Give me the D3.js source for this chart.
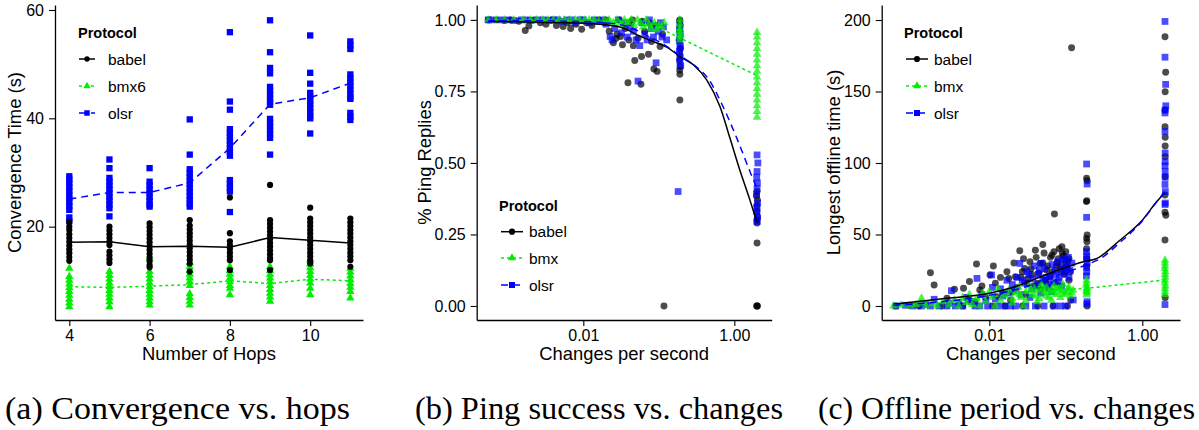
<!DOCTYPE html>
<html>
<head>
<meta charset="utf-8">
<script src="https://cdn.jsdelivr.net/npm/d3@7"></script>
<style>
  html, body { margin: 0; padding: 0; background: #fff; }
  svg { display: block; }
  text { font-family: "Liberation Sans", Arial, Helvetica, sans-serif; fill: #000; }
  .cap { font-family: "Liberation Serif", "Times New Roman", serif; }
</style>
</head>
<body>
<svg id="chart" width="1199" height="430"></svg>
<script>
// ---------- shared ----------
const protocols = ["babel", "bmx6", "olsr"];
const protocolsBC = ["babel", "bmx", "olsr"];
const captions = ["(a) Convergence vs. hops", "(b) Ping success vs. changes", "(c) Offline period vs. changes"];

// ---------- (a) convergence time per hop count ----------
const hops = [4, 5, 6, 7, 8, 9, 10, 11];
const ticksAx = [4, 6, 8, 10];
const ticksAy = [20, 40, 60];

const convBabel = [
  [20.9, 20.0, 19.4, 18.6, 17.9, 17.2, 16.5, 15.8, 15.1, 14.4, 13.7],
  [20.0, 19.3, 18.6, 17.9, 17.2, 16.6, 15.4, 14.7, 14.0, 13.3],
  [20.6, 19.9, 19.2, 18.5, 17.8, 17.1, 16.4, 15.7, 15.0, 14.3, 13.6, 12.9, 12.5],
  [21.2, 20.2, 19.5, 18.8, 18.1, 17.4, 16.7, 16.0, 15.3, 14.6, 13.9, 13.2, 11.7],
  [25.4, 18.8, 17.3, 16.6, 15.9, 15.2, 14.5, 13.8, 12.0],
  [27.7, 21.2, 20.5, 19.8, 19.1, 18.4, 17.7, 17.0, 16.3, 15.6, 14.9, 14.2, 13.8, 12.0],
  [23.5, 21.5, 20.8, 20.1, 19.4, 18.7, 18.0, 17.3, 16.6, 15.9, 15.2, 14.5, 13.8, 13.2],
  [21.5, 20.8, 20.1, 19.4, 18.7, 18.0, 17.3, 16.6, 15.9, 15.2, 14.5, 13.8, 12.6]
];
const convBmx6 = [
  [12.3, 10.8, 10.1, 9.4, 8.7, 8.0, 7.3, 6.6, 5.9, 5.2],
  [11.7, 11.0, 10.3, 9.6, 8.9, 8.2, 7.5, 6.8, 6.1, 5.2],
  [14.2, 11.7, 11.0, 10.3, 9.6, 8.9, 8.2, 7.5, 6.8, 6.1, 5.5],
  [13.3, 12.6, 11.9, 11.2, 10.5, 9.8, 9.1, 7.6, 6.9, 6.2, 5.5],
  [12.6, 11.9, 11.2, 10.5, 9.8, 9.1, 8.6, 7.4],
  [12.6, 11.9, 11.2, 10.5, 9.8, 9.1, 8.4, 7.7, 7.0, 6.2],
  [13.8, 13.1, 12.4, 11.7, 11.0, 10.3, 9.6, 8.6, 7.4],
  [12.3, 11.6, 10.9, 10.2, 9.5, 8.8, 8.0, 6.8]
];
const convOlsr = [
  [29.3, 28.7, 28.0, 27.3, 26.6, 25.9, 25.2, 24.5, 23.8, 23.1, 21.7, 21.0],
  [32.4, 30.8, 29.0, 28.3, 27.6, 26.9, 26.2, 25.5, 24.8, 24.1, 23.4, 21.9],
  [30.8, 28.3, 27.6, 26.9, 26.2, 25.5, 24.8, 24.1, 23.7],
  [39.8, 33.3, 30.6, 29.9, 29.2, 28.5, 27.8, 27.1, 26.4, 25.7, 25.0, 24.3, 23.7],
  [55.9, 43.1, 41.6, 38.0, 37.3, 36.6, 35.9, 35.2, 34.5, 33.8, 33.1, 28.6, 27.9, 27.2, 26.5, 22.7],
  [58.1, 52.2, 49.3, 48.3, 45.8, 45.1, 44.4, 43.7, 43.0, 42.5, 39.9, 39.2, 38.5, 37.8, 37.1, 36.4, 33.3],
  [55.3, 48.4, 46.4, 44.7, 44.0, 43.3, 42.6, 41.9, 41.2, 40.5, 40.0, 37.2],
  [54.2, 53.5, 52.8, 48.1, 47.4, 46.7, 46.0, 45.3, 44.6, 43.9, 43.6, 41.0, 40.3, 39.7]
];
const meanBabel = [17.1, 17.2, 16.3, 16.4, 16.2, 18.0, 17.5, 17.0];
const meanBmx6 = [8.9, 8.8, 9.0, 9.3, 10.0, 9.5, 10.3, 10.0];
const meanOlsr = [25.1, 26.3, 26.3, 28.1, 34.5, 42.6, 43.8, 46.5];

// ---------- (b) ping replies vs. change rate ----------
const ticksBx = [0.01, 1];
const ticksBy = [0, 0.25, 0.5, 0.75, 1];

const pingBabel = [
  [0.00055, 1.0], [0.0007, 1.0], [0.0009, 0.998], [0.0011, 1.0], [0.0014, 0.995], [0.0017, 0.963],
  [0.0019, 0.979], [0.0022, 1.0], [0.0027, 0.99], [0.0032, 0.985], [0.0038, 1.0], [0.0044, 0.98],
  [0.0054, 0.977], [0.0062, 0.99], [0.0068, 0.97], [0.008, 0.985], [0.0095, 0.967], [0.011, 0.99],
  [0.013, 0.98], [0.016, 1.0], [0.019, 0.99], [0.02, 1.0], [0.022, 0.96], [0.025, 0.92], [0.027, 0.935],
  [0.028, 0.95], [0.03, 1.0], [0.031, 0.942], [0.033, 0.913], [0.036, 0.97], [0.039, 0.78], [0.04, 0.93],
  [0.042, 0.99], [0.045, 1.0], [0.046, 0.91], [0.048, 0.858], [0.053, 0.936], [0.058, 0.775],
  [0.059, 0.872], [0.06, 0.995], [0.065, 0.96], [0.073, 0.88], [0.075, 0.99], [0.08, 0.924],
  [0.086, 0.828], [0.09, 0.98], [0.095, 0.82], [0.104, 0.907], [0.112, 0.95], [0.117, 0.0],
  [0.19, 1.0], [0.188, 0.995], [0.192, 0.98], [0.19, 0.965], [0.186, 0.93], [0.193, 0.9],
  [0.19, 0.877], [0.188, 0.86], [0.191, 0.837], [0.189, 0.825], [0.19, 0.81], [0.19, 0.72],
  [2.0, 0.40], [1.97, 0.385], [2.02, 0.37], [1.98, 0.35], [2.0, 0.33], [2.03, 0.31],
  [1.99, 0.30], [2.0, 0.29], [2.0, 0.22], [1.98, 0.0], [2.0, 0.0], [2.02, 0.0]
];
const pingBmx = [
  [0.00055, 1.0], [0.0007, 1.0], [0.0009, 1.0], [0.0012, 1.0], [0.0016, 1.0], [0.002, 1.0],
  [0.0024, 1.0], [0.0029, 1.0], [0.0034, 1.0], [0.004, 1.0], [0.0048, 1.0], [0.0056, 1.0],
  [0.0066, 1.0], [0.0078, 1.0], [0.009, 1.0], [0.0105, 1.0], [0.012, 1.0], [0.014, 1.0],
  [0.016, 0.995], [0.019, 1.0], [0.022, 1.0], [0.025, 0.99], [0.028, 1.0], [0.031, 0.985],
  [0.035, 1.0], [0.039, 0.99], [0.043, 1.0], [0.047, 0.98], [0.052, 1.0], [0.057, 0.99],
  [0.062, 0.975], [0.068, 1.0], [0.074, 0.985], [0.08, 0.97], [0.087, 0.99], [0.094, 0.965],
  [0.1, 0.98], [0.108, 0.975], [0.118, 0.99],
  [0.19, 1.0], [0.19, 0.985], [0.19, 0.97], [0.188, 0.96], [0.192, 0.95], [0.19, 0.94], [0.19, 0.93],
  [2.0, 0.956], [2.0, 0.94], [2.0, 0.92], [2.0, 0.90], [2.0, 0.88], [2.0, 0.86], [2.0, 0.84],
  [2.0, 0.82], [2.0, 0.80], [2.0, 0.78], [2.0, 0.76], [2.0, 0.74], [2.0, 0.72], [2.0, 0.70],
  [2.0, 0.68], [2.0, 0.66]
];
const pingOlsr = [
  [0.00055, 1.0], [0.0006, 1.0], [0.0008, 1.0], [0.001, 1.0], [0.0012, 0.998], [0.0015, 1.0],
  [0.0018, 1.0], [0.002, 0.998], [0.0025, 1.0], [0.003, 1.0], [0.0035, 0.998], [0.004, 1.0],
  [0.0046, 1.0], [0.0052, 0.995], [0.006, 1.0], [0.007, 1.0], [0.0077, 0.99], [0.009, 1.0],
  [0.01, 1.0], [0.012, 0.99], [0.014, 1.0], [0.016, 0.995], [0.018, 1.0], [0.02, 0.985],
  [0.0226, 0.942], [0.024, 0.93], [0.026, 0.97], [0.029, 1.0], [0.032, 0.955], [0.035, 0.99],
  [0.038, 0.94], [0.042, 0.975], [0.046, 0.96], [0.05, 0.93], [0.053, 0.786], [0.056, 0.91],
  [0.06, 0.99], [0.065, 0.95], [0.07, 0.93], [0.075, 1.0], [0.08, 0.97], [0.085, 0.94],
  [0.092, 0.85], [0.098, 0.96], [0.105, 0.99], [0.11, 0.94], [0.115, 0.975], [0.127, 0.93],
  [0.19, 0.98], [0.188, 0.965], [0.192, 0.95], [0.19, 0.94], [0.187, 0.925], [0.193, 0.91],
  [0.19, 0.9], [0.188, 0.89], [0.191, 0.87], [0.19, 0.855], [0.195, 0.84], [0.18, 0.40],
  [2.0, 0.528], [2.05, 0.50], [2.0, 0.47], [1.98, 0.45], [2.02, 0.43], [2.0, 0.41],
  [1.97, 0.39], [2.03, 0.36], [2.0, 0.345], [1.98, 0.33], [2.02, 0.31], [2.0, 0.295]
];
const pingFitBabel = [
  [0.00055, 0.995], [0.002, 0.993], [0.006, 0.99], [0.02, 0.983], [0.035, 0.97], [0.056, 0.943],
  [0.093, 0.92], [0.127, 0.905], [0.19, 0.872], [0.286, 0.843], [0.43, 0.79], [0.645, 0.697],
  [0.877, 0.586], [1.2, 0.47], [1.61, 0.37], [1.98, 0.295]
];
const pingFitBmx = [
  [0.00055, 1.0], [0.02, 0.995], [0.06, 0.985], [0.115, 0.965], [0.19, 0.937], [2.0, 0.805]
];
const pingFitOlsr = [
  [0.00055, 0.998], [0.005, 0.996], [0.02, 0.99], [0.04, 0.975], [0.07, 0.945], [0.12, 0.912],
  [0.19, 0.875], [0.3, 0.84], [0.45, 0.795], [0.7, 0.7], [1.08, 0.586], [1.68, 0.458], [2.0, 0.41]
];

// ---------- (c) longest offline period vs. change rate ----------
const ticksCx = [0.01, 1];
const ticksCy = [0, 50, 100, 150, 200];

const offBabel = [
  [0.0006, 0], [0.0009, 0.5], [0.0012, 0], [0.0017, 23.3], [0.0019, 14.7], [0.0024, 0], [0.0028, 5.4],
  [0.0035, 11.7], [0.0045, 0], [0.0046, 12.4], [0.0053, 4.2], [0.0055, 17.1], [0.0065, 3],
  [0.0068, 29.4], [0.0075, 11.2], [0.008, 14], [0.009, 6],
  [0.0102, 21.7], [0.011, 0], [0.0113, 28], [0.012, 16], [0.0125, 6.5], [0.014, 20], [0.015, 9],
  [0.016, 0], [0.017, 24], [0.018, 19.3], [0.019, 4], [0.02, 10], [0.021, 30], [0.022, 20.5],
  [0.023, 13], [0.025, 38.7], [0.026, 20], [0.027, 24], [0.027, 0], [0.028, 33], [0.029, 26.3],
  [0.03, 8], [0.031, 16], [0.032, 19], [0.034, 31], [0.035, 26], [0.036, 22], [0.038, 14],
  [0.04, 39], [0.041, 34], [0.043, 15.9], [0.043, 0], [0.044, 23], [0.046, 29.8], [0.047, 12],
  [0.05, 43], [0.05, 30], [0.052, 37], [0.053, 18], [0.055, 17], [0.056, 25.2], [0.058, 28],
  [0.06, 12], [0.062, 20.5], [0.063, 34], [0.066, 35.7], [0.067, 24], [0.068, 0], [0.07, 38],
  [0.071, 64.3], [0.073, 16], [0.075, 28], [0.077, 30], [0.08, 33], [0.082, 40], [0.085, 25.2],
  [0.087, 29], [0.089, 41.5], [0.09, 36.8], [0.093, 35], [0.095, 22], [0.097, 24], [0.098, 32.2],
  [0.1, 38], [0.103, 27.5], [0.105, 0], [0.106, 31], [0.11, 18], [0.11, 33], [0.115, 24],
  [0.116, 4.2], [0.119, 180.6],
  [0.187, 89.3], [0.19, 87.6], [0.188, 73.6], [0.186, 73], [0.19, 49.7], [0.187, 47.3],
  [0.189, 45], [0.187, 40], [0.188, 33], [0.187, 28], [0.19, 0],
  [1.98, 188.3], [2.02, 163.4], [1.99, 149.9], [1.98, 137], [1.98, 125.4], [1.99, 118],
  [1.99, 111.9], [1.99, 104.4], [1.99, 90.4], [1.98, 77.6], [1.98, 65.5], [2.03, 63.5],
  [1.98, 46.2], [1.99, 5.8]
];
const offBmx = [
  [0.00056, 0], [0.0007, 0.5], [0.0009, 0], [0.0011, 1], [0.0013, 5.4], [0.0013, 2], [0.0015, 0],
  [0.0018, 1.5], [0.0021, 0], [0.0025, 3], [0.003, 1], [0.0035, 4], [0.004, 0], [0.0045, 6],
  [0.005, 2.5], [0.0055, 8], [0.006, 1], [0.0068, 5], [0.0075, 0], [0.0082, 9], [0.009, 3],
  [0.01, 10], [0.011, 6], [0.012, 0], [0.013, 12], [0.014, 4], [0.016, 7], [0.018, 11], [0.02, 2],
  [0.02, 5], [0.022, 9], [0.024, 13], [0.025, 8], [0.026, 6], [0.028, 0], [0.03, 10], [0.03, 4],
  [0.033, 14], [0.035, 11], [0.036, 8], [0.039, 12], [0.04, 7], [0.042, 3], [0.045, 11], [0.045, 5],
  [0.048, 15], [0.05, 12], [0.052, 9], [0.055, 7], [0.056, 13], [0.06, 6], [0.06, 10], [0.065, 11],
  [0.065, 4], [0.07, 14], [0.07, 9], [0.075, 8], [0.075, 12], [0.08, 12], [0.085, 6], [0.086, 10],
  [0.09, 11], [0.092, 15], [0.095, 8], [0.1, 9], [0.105, 10], [0.108, 12], [0.11, 13], [0.115, 7],
  [0.12, 9], [0.125, 11],
  [0.187, 18], [0.187, 16], [0.185, 14.5], [0.19, 13], [0.187, 12], [0.188, 11], [0.186, 10],
  [0.19, 9], [0.187, 7.7],
  [1.98, 32], [1.98, 30], [1.98, 28], [1.97, 26], [2.0, 24], [1.98, 22], [1.99, 20], [1.98, 18],
  [1.97, 16], [2.0, 14], [1.98, 12], [1.98, 10], [1.98, 8]
];
const offOlsr = [
  [0.0006, 0], [0.0008, 0.5], [0.001, 0], [0.0013, 0], [0.0015, 1], [0.0017, 0], [0.0019, 4.7],
  [0.0022, 0], [0.0028, 0], [0.003, 2], [0.0032, 10.7], [0.0036, 0], [0.004, 2], [0.0045, 0],
  [0.005, 6], [0.0058, 3], [0.0065, 0], [0.0069, 19.3], [0.0075, 0], [0.008, 8], [0.009, 4],
  [0.0095, 0], [0.0107, 21.7], [0.011, 13], [0.012, 5], [0.013, 0], [0.014, 12], [0.015, 7],
  [0.016, 0], [0.017, 18], [0.018, 9], [0.019, 0], [0.02, 15], [0.021, 11], [0.022, 0],
  [0.023, 20], [0.025, 29.8], [0.026, 8], [0.027, 18], [0.029, 16], [0.03, 0], [0.031, 24],
  [0.033, 22], [0.034, 6], [0.036, 12], [0.037, 19], [0.039, 28], [0.04, 0], [0.042, 14],
  [0.044, 22], [0.045, 25], [0.047, 9], [0.048, 29.8], [0.05, 18], [0.052, 0], [0.053, 26],
  [0.055, 20], [0.057, 13], [0.06, 15], [0.062, 21], [0.065, 10], [0.066, 29], [0.068, 17],
  [0.07, 0], [0.072, 25], [0.075, 22], [0.078, 31], [0.08, 17], [0.082, 20], [0.085, 0],
  [0.088, 14], [0.09, 26], [0.092, 33], [0.096, 23], [0.1, 30], [0.1, 0], [0.104, 27],
  [0.108, 34], [0.11, 20], [0.113, 25], [0.12, 30], [0.125, 4.2],
  [0.187, 99.3], [0.19, 85.3], [0.187, 62], [0.186, 38], [0.188, 35], [0.187, 33], [0.19, 30],
  [0.187, 27], [0.188, 24], [0.186, 21], [0.19, 3], [0.188, 1.5],
  [1.98, 199], [1.98, 174], [2.02, 155], [2.03, 140], [1.99, 137], [1.98, 135], [1.98, 122],
  [1.99, 107], [1.99, 101], [1.98, 98], [1.99, 94], [1.99, 90], [1.98, 85], [2.0, 80],
  [2.0, 72], [1.98, 71], [1.98, 1]
];
const offFitBabel = [
  [0.00056, 1.2], [0.0028, 5.4], [0.01, 8.9], [0.0206, 13.1], [0.069, 24], [0.17, 31],
  [0.25, 33], [0.51, 46], [1.0, 60], [1.6, 74], [1.98, 79]
];
const offFitBmx = [
  [0.00056, 0.5], [0.001, 1], [0.003, 3], [0.01, 6], [0.0206, 8.9], [0.07, 11.2], [0.187, 12.4], [1.98, 18.2]
];
const offFitOlsr = [
  [0.00056, 0.5], [0.003, 3.5], [0.01, 7.5], [0.03, 13.5], [0.07, 21], [0.12, 25], [0.19, 29],
  [0.3, 34], [0.5, 44], [1.0, 59.5], [1.6, 74], [1.98, 80]
];

// ---------- styles ----------
const GREEN = "#00ee00", BLUE = "#0000ff", BLACK = "#000000";
const style = {
  babel: { color: BLACK, shape: d3.symbolCircle, dash: null },
  bmx:   { color: GREEN, shape: d3.symbolTriangle, dash: "3,3" },
  olsr:  { color: BLUE,  shape: d3.symbolSquare, dash: "7,5" }
};

const svg = d3.select("#chart");

function drawAxes(g, x, y, xt, yt, xfmt, yfmt, xTitle, yTitle, yTitleX) {
  const [x0, x1] = x.range();
  const [y0, y1] = y.range();
  const ax = g.append("g").attr("transform", `translate(0,${y0})`)
    .call(d3.axisBottom(x).tickValues(xt).tickFormat(xfmt).tickSize(6).tickSizeOuter(0).tickPadding(4));
  const ay = g.append("g").attr("transform", `translate(${x0},0)`)
    .call(d3.axisLeft(y).tickValues(yt).tickFormat(yfmt).tickSize(6).tickSizeOuter(0).tickPadding(5));
  [ax, ay].forEach(a => {
    a.selectAll("path.domain").attr("stroke", "#000").attr("stroke-width", 1.3);
    a.selectAll(".tick line").attr("stroke", "#000").attr("stroke-width", 1.1);
    a.selectAll(".tick text").attr("font-size", 16).attr("fill", "#000")
      .attr("font-family", "'Liberation Sans', Arial, sans-serif");
  });
  g.append("text").attr("x", (x0 + x1) / 2).attr("y", 360).attr("text-anchor", "middle")
    .attr("font-size", 18.4).text(xTitle);
  g.append("text").attr("transform", `translate(${yTitleX},${(y0 + y1) / 2}) rotate(-90)`)
    .attr("text-anchor", "middle").attr("font-size", 18.4).text(yTitle);
}

function drawPoints(g, pts, x, y, key, size, alpha) {
  const s = style[key];
  g.append("g").selectAll("path").data(pts).join("path")
    .attr("transform", d => `translate(${x(d[0])},${y(d[1])})`)
    .attr("d", d3.symbol().type(s.shape).size(size)())
    .attr("fill", s.color).attr("fill-opacity", alpha);
}

function drawLine(g, pts, x, y, key, curve) {
  const s = style[key];
  g.append("path").datum(pts)
    .attr("d", d3.line().x(d => x(d[0])).y(d => y(d[1])).curve(curve))
    .attr("fill", "none").attr("stroke", s.color).attr("stroke-width", 1.5)
    .attr("stroke-dasharray", s.dash);
}

function drawLegend(g, tx, ty, rows, labels, keys, lx1, lx2, textX, sizes) {
  g.append("text").attr("x", tx).attr("y", ty).attr("font-size", 14.5)
    .attr("font-weight", "bold").text("Protocol");
  labels.forEach((lab, i) => {
    const yy = rows[i];
    const s = style[keys[i]];
    g.append("line").attr("x1", lx1).attr("x2", lx2).attr("y1", yy).attr("y2", yy)
      .attr("stroke", s.color).attr("stroke-width", 1.5).attr("stroke-dasharray", s.dash);
    g.append("path").attr("transform", `translate(${(lx1 + lx2) / 2},${yy})`)
      .attr("d", d3.symbol().type(s.shape).size(sizes[i])()).attr("fill", s.color);
    g.append("text").attr("x", textX).attr("y", yy + 5.5).attr("font-size", 15.5).text(lab);
  });
}

// ---------- panel (a) ----------
{
  const g = svg.append("g");
  const x = d3.scaleLinear().domain([3.644, 11.315]).range([55, 363]);
  const y = d3.scaleLinear().domain([2.769, 60.92]).range([320, 5]);
  const flat = arr => hops.flatMap((h, i) => arr[i].map(v => [h, v]));
  drawPoints(g, flat(convOlsr), x, y, "olsr", 40, 1);
  drawPoints(g, flat(convBmx6), x, y, "bmx", 30, 1);
  drawPoints(g, flat(convBabel), x, y, "babel", 30, 1);
  drawLine(g, hops.map((h, i) => [h, meanBabel[i]]), x, y, "babel", d3.curveLinear);
  drawLine(g, hops.map((h, i) => [h, meanBmx6[i]]), x, y, "bmx", d3.curveLinear);
  drawLine(g, hops.map((h, i) => [h, meanOlsr[i]]), x, y, "olsr", d3.curveLinear);
  drawAxes(g, x, y, ticksAx, ticksAy, d3.format("d"), d3.format("d"),
    "Number of Hops", "Convergence Time (s)", 21);
  drawLegend(g, 78, 38, [59, 86, 113], protocols, ["babel", "bmx", "olsr"], 79, 95, 108, [22, 24, 30]);
}

// ---------- panel (b) ----------
{
  const g = svg.append("g");
  const x = d3.scaleLog().domain([0.000387, 3.126]).range([476.7, 771.7]);
  const y = d3.scaleLinear().domain([-0.049, 1.052]).range([320, 5]);
  drawPoints(g, pingBabel, x, y, "babel", 38, 0.7);
  drawPoints(g, pingOlsr, x, y, "olsr", 46, 0.7);
  drawPoints(g, pingBmx, x, y, "bmx", 32, 0.7);
  drawLine(g, pingFitBabel, x, y, "babel", d3.curveMonotoneX);
  drawLine(g, pingFitBmx, x, y, "bmx", d3.curveLinear);
  drawLine(g, pingFitOlsr, x, y, "olsr", d3.curveMonotoneX);
  drawAxes(g, x, y, ticksBx, ticksBy, d3.format(".2f"), d3.format(".2f"),
    "Changes per second", "% Ping Replies", 431);
  drawLegend(g, 499, 211, [231.7, 258, 285], protocolsBC, ["babel", "bmx", "olsr"], 501, 523, 529, [30, 28, 36]);
}

// ---------- panel (c) ----------
{
  const g = svg.append("g");
  const x = d3.scaleLog().domain([0.000392, 3.11]).range([881.7, 1180]);
  const y = d3.scaleLinear().domain([-9.8, 210.5]).range([320, 5]);
  drawPoints(g, offBabel, x, y, "babel", 38, 0.7);
  drawPoints(g, offOlsr, x, y, "olsr", 46, 0.7);
  drawPoints(g, offBmx, x, y, "bmx", 32, 0.7);
  drawLine(g, offFitBabel, x, y, "babel", d3.curveMonotoneX);
  drawLine(g, offFitBmx, x, y, "bmx", d3.curveLinear);
  drawLine(g, offFitOlsr, x, y, "olsr", d3.curveMonotoneX);
  drawAxes(g, x, y, ticksCx, ticksCy, d3.format(".2f"), d3.format("d"),
    "Changes per second", "Longest offline time (s)", 840);
  drawLegend(g, 904, 38, [59, 86, 113], protocolsBC, ["babel", "bmx", "olsr"], 906, 928, 934, [30, 28, 36]);
}

// ---------- sub-figure captions ----------
const capCenters = [177.5, 599, 1006.5];
const capWidths = [345, 368, 377];
captions.forEach((c, i) => {
  svg.append("text").attr("class", "cap").attr("x", capCenters[i]).attr("y", 419)
    .attr("text-anchor", "middle").attr("font-size", 31)
    .attr("textLength", capWidths[i]).attr("lengthAdjust", "spacingAndGlyphs").text(c);
});
</script>
</body>
</html>
